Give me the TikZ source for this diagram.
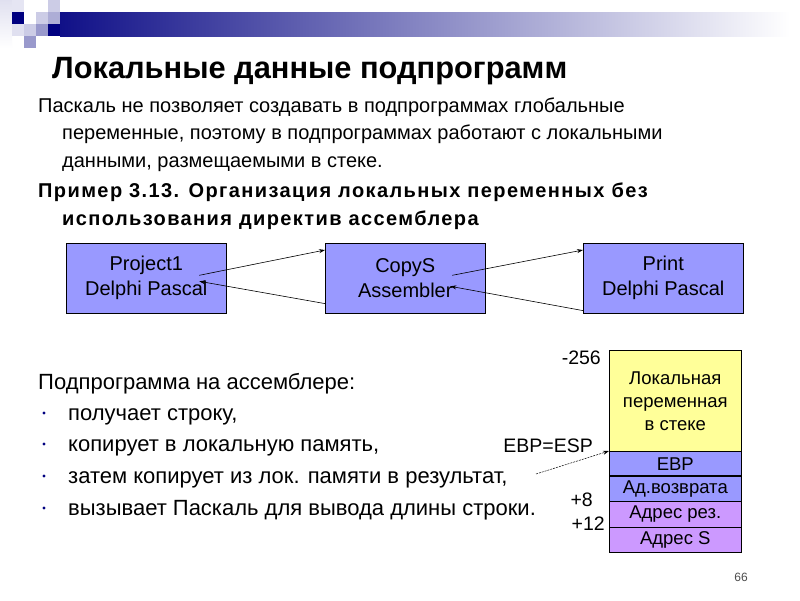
\documentclass[tikz,border=0pt]{standalone}
\usepackage{fontspec}
\setmainfont{Liberation Sans}
\usetikzlibrary{arrows.meta,calc}
\definecolor{navy}{HTML}{000080}
\definecolor{sqmid}{HTML}{9999CC}
\definecolor{sqlight}{HTML}{CCCCE6}
\definecolor{boxblue}{HTML}{9999FF}
\definecolor{boxyellow}{HTML}{FFFF99}
\definecolor{boxviolet}{HTML}{CC99FF}
\definecolor{bandmid}{HTML}{7D7DBD}
\definecolor{bandleft}{HTML}{101088}
\begin{document}
\begin{tikzpicture}[x=1pt,y=-1pt,
  txt/.style={anchor=base west,inner sep=0pt,font=\fontsize{20}{24}\selectfont},
  ltxt/.style={anchor=base west,inner sep=0pt,font=\fontsize{22}{26}\selectfont},
  btxt/.style={txt,font=\fontsize{20}{24}\selectfont\bfseries\addfontfeature{LetterSpace=7}},
  prog/.style={draw=black,line width=0.6pt,fill=boxblue,minimum width=160pt,minimum height=70pt,
    inner sep=0pt,align=center,anchor=north west,font=\fontsize{20}{25}\selectfont},
  cell/.style={draw=black,line width=0.6pt,minimum width=132pt,inner sep=0pt,anchor=north west,
    align=center,font=\fontsize{18.5}{23}\selectfont},
  lbl/.style={anchor=base east,inner sep=0pt,font=\fontsize{19.5}{22}\selectfont},
  arr/.style={line width=0.6pt,-{Stealth[length=6pt,width=4pt]}},
  bul/.style={fill=navy,circle,inner sep=0pt,minimum size=3.2pt}]
\useasboundingbox (0,0) rectangle (800,600);
\fill[white] (0,0) rectangle (800,600);
% decoration
\shade[top color=sqlight!60,bottom color=white] (0,0) rectangle (12,48);
\fill[sqlight!50] (12,0) rectangle (24,12);
\fill[sqlight!60] (12,24) rectangle (24,36);
\fill[navy] (12,12) rectangle (24,24);
\fill[sqlight] (48,0) rectangle (60,12);
\fill[sqlight] (36,12) rectangle (48,24);
\fill[sqmid!80] (48,12) rectangle (60,24);
\fill[sqlight] (24,24) rectangle (36,36);
\fill[sqmid] (36,24) rectangle (48,36);
\fill[navy] (48,24) rectangle (60,36);
\fill[sqmid] (24,36) rectangle (36,48);
\shade[left color=bandleft,middle color=bandmid,right color=white] (60,12) rectangle (790,36);
% title
\node[anchor=base west,inner sep=0pt,font=\fontsize{30.8}{34}\selectfont\bfseries] (title) at (52,78) {Локальные данные подпрограмм};
% body
\node[txt] (b1) at (38,112) {Паскаль не позволяет создавать в подпрограммах глобальные};
\node[txt] (b2) at (62,139.5) {переменные, поэтому в подпрограммах работают с локальными};
\node[txt] (b3) at (62,167) {данными, размещаемыми в стеке.};
\node[btxt] (e1) at (38,197.5) {Пример 3.13. Организация локальных переменных без};
\node[btxt] (e2) at (62,225) {использования директив ассемблера};
% program boxes
\node[prog] (p1) at (66,243) {Project1\\Delphi Pascal};
\node[prog] (p2) at (325,243) {CopyS\\Assembler};
\node[prog] (p3) at (583,243) {Print\\Delphi Pascal};
\coordinate (a1s) at ($(p1.center)+(53,-3)$);
\coordinate (a2e) at ($(p1.center)+(53,3)$);
\coordinate (a3s) at ($(p2.center)+(47,-3)$);
\coordinate (a4e) at ($(p2.center)+(45,8)$);
\draw[arr] (a1s) -- ($(p2.north west)+(0,7)$);
\draw[arr] ($(p2.south west)+(0,-10)$) -- (a2e);
\draw[arr] (a3s) -- ($(p3.north west)+(0,7)$);
\draw[arr] ($(p3.south west)+(0,-3)$) -- (a4e);
% list
\node[ltxt] (s0) at (38,389) {Подпрограмма на ассемблере:};
\node[ltxt] (s1) at (68,420) {получает строку,};
\node[ltxt] (s2) at (68,451) {копирует в локальную память,};
\node[ltxt] (s3) at (68,483) {затем копирует из лок. памяти в результат,};
\node[ltxt] (s4) at (68,515) {вызывает Паскаль для вывода длины строки.};
\node[bul] (d1) at (44,413) {};
\node[bul] (d2) at (44,444) {};
\node[bul] (d3) at (44,476) {};
\node[bul] (d4) at (44,508) {};
% stack
\node[cell,fill=boxyellow,minimum height=101pt] (loc) at (609,350) {Локальная\\переменная\\в стеке};
\node[cell,fill=boxblue,minimum height=25pt] (ebp) at (609,451) {EBP};
\node[cell,fill=boxblue,minimum height=25pt] (ret) at (609,476) {Ад.возврата};
\node[cell,fill=boxviolet,minimum height=26pt] (res) at (609,501) {Адрес рез.};
\node[cell,fill=boxviolet,minimum height=25pt] (adrs) at (609,527) {Адрес S};
\draw[line width=1.2pt] (ret.north west) -- (ret.north east);
\node[lbl] (m256) at (601,364) {-256};
\node[lbl] (ebpesp) at (593,452) {EBP=ESP};
\node[lbl] (p8) at (593,506) {+8};
\node[lbl] (p12) at (605,530) {+12};
\coordinate (sa) at (536,474);
\draw[line width=0.5pt,dash pattern=on 2pt off 1pt,-{Stealth[length=6pt,width=4pt]}] (sa) -- (ebp.north west);
% page number
\node[inner sep=0pt,text=black!70,font=\fontsize{12}{14}\selectfont] (pg) at (741,577) {66};
\end{tikzpicture}
\end{document}
